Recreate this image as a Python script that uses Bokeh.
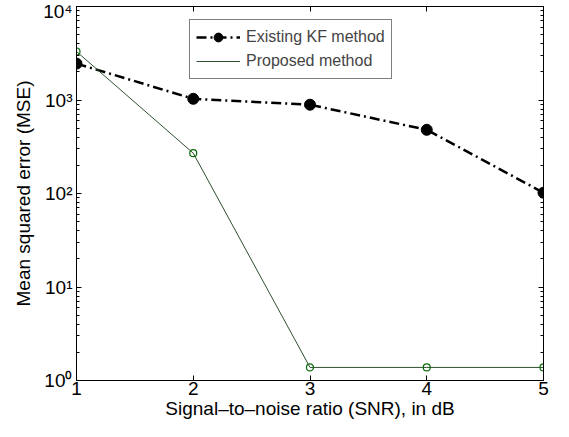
from bokeh.plotting import figure
from bokeh.models import FixedTicker, LinearAxis, LogAxis, Legend, LegendItem, Range1d
from bokeh.embed import file_html
from bokeh.resources import INLINE

snr = [1, 2, 3, 4, 5]
mse_kf = [2450, 1030, 890, 480, 102]
mse_proposed = [3300, 270, 1.38, 1.38, 1.38]
x_ticks = [1, 2, 3, 4, 5]
y_ticks = [1, 10, 100, 1000, 10000]
y_tick_labels = {1: "10\u2070", 10: "10\u00b9", 100: "10\u00b2", 1000: "10\u00b3", 10000: "10\u2074"}

FONT = "Liberation Sans"
p = figure(width=553, height=421, y_axis_type="log", output_backend="svg",
           toolbar_location=None, x_range=Range1d(1, 5), y_range=Range1d(1, 10000),
           min_border_left=76, min_border_right=10, min_border_top=6, min_border_bottom=40)
p.grid.visible = False
p.outline_line_color = "black"
p.outline_line_width = 1

minor = [m * 10 ** d for d in range(4) for m in range(2, 10)]

def style(ax):
    ax.major_tick_in = 5
    ax.major_tick_out = 0
    ax.minor_tick_in = 3
    ax.minor_tick_out = 0
    ax.axis_line_color = "black"
    ax.major_tick_line_color = "black"
    ax.minor_tick_line_color = "black"
    ax.major_label_text_font = FONT
    ax.major_label_text_font_size = "19px"
    ax.major_label_text_color = "black"
    ax.axis_label_text_font = FONT
    ax.axis_label_text_font_size = "19px"
    ax.axis_label_text_font_style = "normal"
    ax.axis_label_text_color = "black"

xa = p.xaxis[0]
xa.ticker = FixedTicker(ticks=x_ticks)
xa.axis_label = "Signal\u2013to\u2013noise ratio (SNR), in dB"
xa.axis_label_standoff = 0
xa.major_label_standoff = 1
style(xa)
ya = p.yaxis[0]
ya.ticker = FixedTicker(ticks=y_ticks, minor_ticks=minor)
ya.major_label_overrides = y_tick_labels
ya.axis_label = "Mean squared error (MSE)"
ya.axis_label_standoff = 6
ya.major_label_standoff = 4
style(ya)

ta = LinearAxis(ticker=FixedTicker(ticks=x_ticks))
style(ta)
ta.major_label_overrides = {t: "" for t in x_ticks}
ta.major_label_standoff = 0
ta.major_label_text_font_size = "1px"
p.add_layout(ta, "above")
ra = LogAxis(ticker=FixedTicker(ticks=y_ticks, minor_ticks=minor))
style(ra)
ra.major_label_overrides = {t: "" for t in y_ticks}
ra.major_label_standoff = 0
ra.major_label_text_font_size = "1px"
p.add_layout(ra, "right")

kf_line = p.line(snr, mse_kf, line_color="black", line_width=2.5, line_dash="10 4 2 4")
kf_mark = p.scatter(snr, mse_kf, size=11, fill_color="black", line_color="black")
pr_line = p.line(snr, mse_proposed, line_color="#2f4f2f", line_width=1)
pr_mark = p.scatter(snr, mse_proposed, size=7, fill_color=None, line_color="#0a6a0a", line_width=1.2)

legend = Legend(items=[LegendItem(label="Existing KF method", renderers=[kf_line, kf_mark]),
                       LegendItem(label="Proposed method", renderers=[pr_line])],
                location=(113, 301))
legend.label_text_font = FONT
legend.label_text_font_size = "16px"
legend.border_line_color = "black"
legend.border_line_width = 1
legend.background_fill_alpha = 1
legend.glyph_width = 44
legend.glyph_height = 22
legend.label_height = 22
legend.spacing = 2
legend.padding = 6
legend.margin = 0
legend.label_standoff = 6
p.add_layout(legend, "center")

open("out.html", "w").write(file_html(p, INLINE))
